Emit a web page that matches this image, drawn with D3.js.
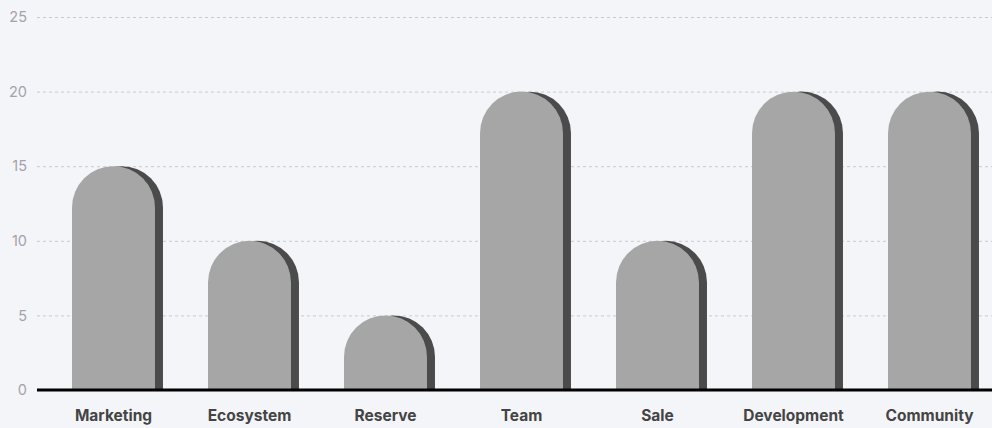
<!DOCTYPE html>
<html>
<head>
<meta charset="utf-8">
<script src="https://cdn.jsdelivr.net/npm/d3@7"></script>
<style>
  html, body { margin: 0; padding: 0; background: #f4f5f9; }
  svg { display: block; font-family: Inter, "Noto Sans", sans-serif; }
</style>
</head>
<body>
<div id="chart"></div>
<script>
const categories = ["Marketing", "Ecosystem", "Reserve", "Team", "Sale", "Development", "Community"];
const values = [15, 10, 5, 20, 10, 20, 20];
const yTicks = [0, 5, 10, 15, 20, 25];

const width = 992, height = 428;

const svg = d3.select("#chart")
  .append("svg")
    .attr("width", width)
    .attr("height", height);

const x = d3.scaleBand()
    .domain(categories)
    .range([45.5, 997.5])
    .paddingInner(0.39)
    .paddingOuter(0.195);

const y = d3.scaleLinear()
    .domain([0, 25])
    .range([390, 17]);

// grid + y labels
const yAxis = svg.append("g")
    .attr("transform", "translate(37,0)")
    .call(d3.axisLeft(y).tickValues(yTicks).tickSize(0).tickPadding(10));
yAxis.select(".domain").remove();
yAxis.selectAll("text")
    .attr("fill", "#a3a3a8")
    .style("font-size", "14.5px")
    .style("font-family", "Inter, sans-serif");
yAxis.selectAll(".tick line")
    .attr("x2", width - 37)
    .attr("stroke", "#c9cacf")
    .attr("stroke-dasharray", "3,3");

// rounded-top bar path
function barPath(x0, w, yTop, yBase) {
  const r = w / 2;
  const h = yBase - yTop;
  const rr = Math.min(r, h);
  return `M${x0},${yBase} L${x0},${yTop + rr} A${r},${rr} 0 0 1 ${x0 + w},${yTop + rr} L${x0 + w},${yBase} Z`;
}

const bars = svg.append("g");
categories.forEach((c, i) => {
  const x0 = x(c), w = x.bandwidth();
  bars.append("path")
      .attr("d", barPath(x0 + 8, w, y(values[i]), y(0)))
      .attr("fill", "#4b4b4b");
  bars.append("path")
      .attr("d", barPath(x0, w, y(values[i]), y(0)))
      .attr("fill", "#a6a6a6");
});

// baseline
svg.append("line")
    .attr("x1", 37).attr("x2", width)
    .attr("y1", y(0)).attr("y2", y(0))
    .attr("stroke", "#000")
    .attr("stroke-width", 3);

// x labels
const xAxis = svg.append("g")
    .attr("transform", `translate(0,${y(0)})`)
    .call(d3.axisBottom(x).tickSize(0).tickPadding(0));
xAxis.select(".domain").remove();
xAxis.selectAll("text")
    .attr("y", 31)
    .attr("dy", 0)
    .attr("fill", "#444")
    .style("font-size", "15.5px")
    .style("font-weight", "bold")
    .style("font-family", "Inter, sans-serif");
</script>
</body>
</html>
